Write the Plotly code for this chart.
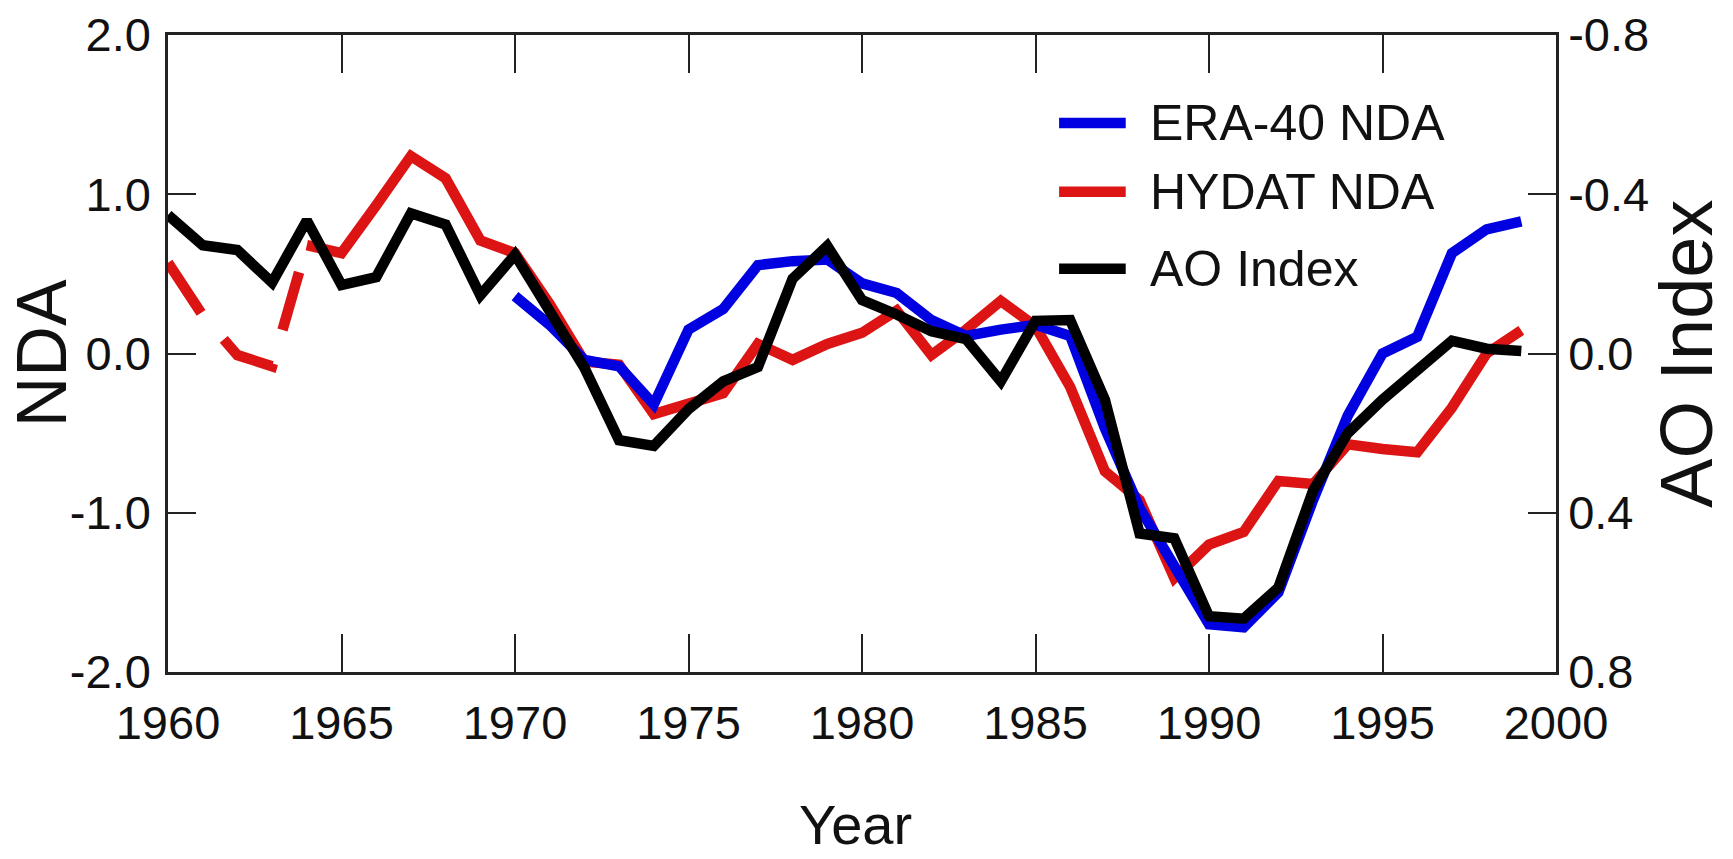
import plotly.graph_objects as go

# HYDAT NDA: sparse early record (dashed) and continuous record (solid)
hydat_early_years = [1960, 1961, 1962, 1963, 1964]
hydat_early = [0.57, 0.24, -0.01, -0.08, 0.68]

hydat_years = list(range(1964, 2000))
hydat = [0.68, 0.63, 0.93, 1.24, 1.10, 0.71, 0.63, 0.31, -0.05, -0.07,
         -0.38, -0.31, -0.25, 0.06, -0.04, 0.06, 0.13, 0.27, -0.01, 0.15,
         0.33, 0.17, -0.21, -0.74, -0.92, -1.41, -1.20, -1.12, -0.80, -0.82,
         -0.57, -0.60, -0.62, -0.34, 0.00, 0.145]

# ERA-40 NDA
era40_years = list(range(1970, 2000))
era40 = [0.36, 0.18, -0.04, -0.08, -0.32, 0.15, 0.28, 0.555, 0.58, 0.59,
         0.44, 0.38, 0.21, 0.11, 0.15, 0.18, 0.11, -0.47, -0.97, -1.32,
         -1.70, -1.72, -1.50, -0.92, -0.39, 0.00, 0.105, 0.63, 0.78, 0.83]

# Arctic Oscillation index (plotted on the reversed right axis)
ao_years = list(range(1960, 2000))
ao_index = [-0.348, -0.272, -0.260, -0.178, -0.334, -0.172, -0.192, -0.352, -0.324, -0.146,
            -0.248, -0.108, 0.036, 0.218, 0.232, 0.140, 0.070, 0.034, -0.188, -0.270,
            -0.134, -0.098, -0.056, -0.036, 0.070, -0.082, -0.084, 0.116, 0.452, 0.464,
            0.660, 0.666, 0.588, 0.344, 0.200, 0.116, 0.042, -0.032, -0.012, -0.006]

x_ticks = [1960, 1965, 1970, 1975, 1980, 1985, 1990, 1995, 2000]
nda_ticks = [-2, -1, 0, 1, 2]
nda_labels = ["-2.0", "-1.0", "0.0", "1.0", "2.0"]
ao_ticks = [-0.8, -0.4, 0.0, 0.4, 0.8]
ao_labels = ["-0.8", "-0.4", "0.0", "0.4", "0.8"]

series_names = ["ERA-40 NDA", "HYDAT NDA", "AO Index"]

BLUE = "#0000e0"
RED = "#dc1414"
BLACK = "#000000"
LW = 10.5
FONT = "Liberation Sans, Arial, sans-serif"
TICK_FONT = dict(family=FONT, size=47, color="#111")

fig = go.Figure()

fig.add_trace(go.Scatter(x=hydat_early_years, y=hydat_early, mode="lines",
                         line=dict(color=RED, width=LW, dash="60px,35px"),
                         showlegend=False, name=series_names[1]))
fig.add_trace(go.Scatter(x=hydat_years, y=hydat, mode="lines",
                         line=dict(color=RED, width=LW),
                         showlegend=False, name=series_names[1]))
fig.add_trace(go.Scatter(x=era40_years, y=era40, mode="lines",
                         line=dict(color=BLUE, width=LW),
                         showlegend=False, name=series_names[0]))
fig.add_trace(go.Scatter(x=ao_years, y=ao_index, mode="lines", yaxis="y2",
                         line=dict(color=BLACK, width=LW),
                         showlegend=False, name=series_names[2]))

# Hand-drawn legend block in the upper right of the plot area
legend_colors = [BLUE, RED, BLACK]
legend_rows = [0.862, 0.754, 0.633]
for name, color, yy in zip(series_names, legend_colors, legend_rows):
    fig.add_shape(type="line", xref="paper", yref="paper",
                  x0=0.642, x1=0.690, y0=yy, y1=yy,
                  line=dict(color=color, width=LW))
    fig.add_annotation(text=name, xref="paper", yref="paper",
                       x=0.706, y=yy, xanchor="left", yanchor="middle",
                       showarrow=False,
                       font=dict(family=FONT, size=50, color="#111"))

# Axis titles
fig.add_annotation(text="NDA", xref="paper", yref="paper", x=-0.091, y=0.5,
                   textangle=-90, showarrow=False, xanchor="center", yanchor="middle",
                   font=dict(family=FONT, size=70, color="#111"))
fig.add_annotation(text="AO Index", xref="paper", yref="paper", x=1.094, y=0.5,
                   textangle=-90, showarrow=False, xanchor="center", yanchor="middle",
                   font=dict(family=FONT, size=74, color="#111"))
fig.add_annotation(text="Year", xref="paper", yref="paper", x=0.495, y=-0.240,
                   showarrow=False, xanchor="center", yanchor="middle",
                   font=dict(family=FONT, size=56, color="#111"))

fig.update_layout(
    width=1733, height=859,
    margin=dict(l=168, r=177, t=35, b=187, autoexpand=False),
    paper_bgcolor="white", plot_bgcolor="white",
    showlegend=False,
    xaxis=dict(range=[1960, 2000], tickvals=x_ticks, ticktext=[str(v) for v in x_ticks],
               ticks="inside", ticklen=38, tickwidth=2, tickcolor="#222",
               showline=True, linewidth=2.5, linecolor="#222", mirror="ticks",
               showgrid=False, zeroline=False, tickfont=TICK_FONT,
               ticklabelstandoff=8),
    yaxis=dict(range=[-2, 2], tickvals=nda_ticks, ticktext=nda_labels,
               ticks="inside", ticklen=28, tickwidth=2, tickcolor="#222",
               showline=True, linewidth=2.5, linecolor="#222",
               showgrid=False, zeroline=False, tickfont=TICK_FONT,
               ticklabelstandoff=5),
    yaxis2=dict(range=[0.8, -0.8], overlaying="y", side="right",
                tickvals=ao_ticks, ticktext=ao_labels,
                ticks="inside", ticklen=28, tickwidth=2, tickcolor="#222",
                showline=True, linewidth=2.5, linecolor="#222",
                showgrid=False, zeroline=False, tickfont=TICK_FONT,
                ticklabelstandoff=0),
)

fig.write_html("out.html")
